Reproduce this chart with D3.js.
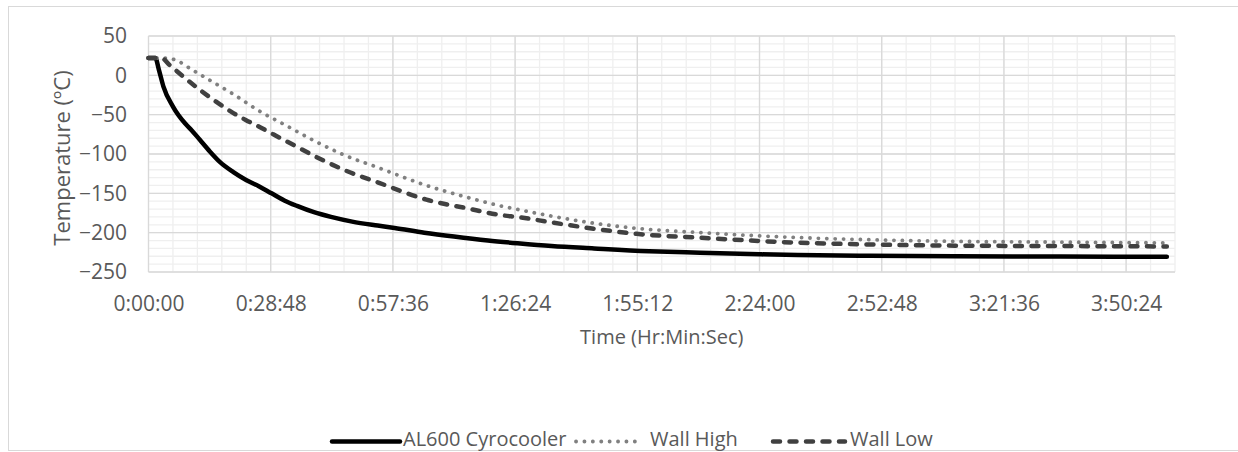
<!DOCTYPE html>
<html>
<head>
<meta charset="utf-8">
<script src="https://cdn.jsdelivr.net/npm/d3@7"></script>
<style>
  body { margin: 0; background: #fff; }
  text { font-family: "Open Sans", sans-serif; fill: #595959; }
</style>
</head>
<body>
<script>
// time is in minutes, temperature in degC
var coolerTime = [0, 1.6, 2.5, 3.5, 5.8, 8.6, 10.2, 12.1, 14.5, 16.8, 20, 23, 26, 29, 32, 35, 39, 43, 48, 54, 58, 65, 72, 80, 87, 95, 105, 118, 130, 144, 153, 170, 190, 215, 240];
var coolerTemp = [22, 22, 6, -14, -40, -61, -70, -82, -97, -110, -123, -133, -141, -150, -159, -166, -174, -180, -186, -191, -194, -200, -205, -210, -213.5, -217, -220, -223.5, -225.5, -227.5, -228.4, -229.3, -230, -230.4, -230.6];

var highTime = [0, 4, 6.6, 10, 15, 20, 26, 32.5, 39, 46, 54.5, 65.5, 75, 83, 87.5, 95, 105, 115, 130, 152, 170, 190, 215, 240];
var highTemp = [22, 22, 19, 8, -8, -24, -45, -64, -83, -101, -118, -140, -155, -166, -171, -179, -188, -194.5, -200, -206, -209, -211, -212, -213];

var lowTime = [0, 3, 5, 8.5, 12, 15, 20, 23, 26.3, 29.4, 34, 40, 46, 54.5, 65.5, 75, 83, 87.5, 95, 105, 115, 130, 152, 170, 190, 215, 240];
var lowTemp = [22, 22, 13, -3, -18, -30, -48, -57, -66, -75, -88, -105, -120, -137, -158, -169, -177.6, -180.5, -187, -195, -201.5, -206.5, -212.5, -215, -216.5, -217, -217.5];

var xTicks = [0, 28.8, 57.6, 86.4, 115.2, 144, 172.8, 201.6, 230.4];
var xTickLabels = ["0:00:00", "0:28:48", "0:57:36", "1:26:24", "1:55:12", "2:24:00", "2:52:48", "3:21:36", "3:50:24"];
var yTicks = [50, 0, -50, -100, -150, -200, -250];

var seriesNames = ["AL600 Cyrocooler", "Wall High", "Wall Low"];

// chart area
var W = 1238, H = 452;
var margin = { top: 36, right: 63, bottom: 180, left: 148.5 };
var width = W - margin.left - margin.right;
var height = H - margin.top - margin.bottom;

var xMax = 241.92; // 0.168 day
var xScale = d3.scaleLinear().domain([0, xMax]).range([0, width]);
var yScale = d3.scaleLinear().domain([-250, 50]).range([height, 0]);

var svg = d3.select('body').append('svg')
  .attr('width', W)
  .attr('height', H);

// outer chart border
svg.append('rect')
  .attr('x', 8.5).attr('y', 6.5)
  .attr('width', W).attr('height', 444)
  .attr('fill', 'none')
  .attr('stroke', '#d9d9d9')
  .attr('stroke-width', 1);

var g = svg.append('g')
  .attr('transform', 'translate(' + margin.left + ',' + margin.top + ')');

// minor grid
var xMinor = d3.range(0, xMax + 0.01, 5.76);
var yMinor = d3.range(-250, 50.1, 10);
g.append('g').selectAll('line').data(xMinor).enter().append('line')
  .attr('x1', function(d) { return xScale(d); })
  .attr('x2', function(d) { return xScale(d); })
  .attr('y1', 0).attr('y2', height)
  .attr('stroke', '#efefef').attr('stroke-width', 1.3);
g.append('g').selectAll('line').data(yMinor).enter().append('line')
  .attr('y1', function(d) { return yScale(d); })
  .attr('y2', function(d) { return yScale(d); })
  .attr('x1', 0).attr('x2', width)
  .attr('stroke', '#efefef').attr('stroke-width', 1.3);

// major grid
g.append('g').selectAll('line').data(xTicks).enter().append('line')
  .attr('x1', function(d) { return xScale(d); })
  .attr('x2', function(d) { return xScale(d); })
  .attr('y1', 0).attr('y2', height)
  .attr('stroke', '#d9d9d9').attr('stroke-width', 1.3);
g.append('g').selectAll('line').data(yTicks).enter().append('line')
  .attr('y1', function(d) { return yScale(d); })
  .attr('y2', function(d) { return yScale(d); })
  .attr('x1', 0).attr('x2', width)
  .attr('stroke', '#d9d9d9').attr('stroke-width', 1.3);

// axes (labels only)
var xAxis = d3.axisBottom(xScale)
  .tickValues(xTicks)
  .tickSize(0)
  .tickPadding(24)
  .tickFormat(function(d, i) { return xTickLabels[i]; });
var yAxis = d3.axisLeft(yScale)
  .tickValues(yTicks)
  .tickSize(0)
  .tickPadding(21.5);

var gx = g.append('g')
  .attr('transform', 'translate(0,' + height + ')')
  .call(xAxis);
var gy = g.append('g').call(yAxis);
[gx, gy].forEach(function(a) {
  a.select('.domain').remove();
  a.selectAll('text')
    .style('font-family', '"Open Sans", sans-serif')
    .style('font-size', '21px')
    .attr('fill', '#595959');
});

// axis titles
svg.append('text')
  .attr('x', margin.left + width / 2)
  .attr('y', 344)
  .attr('text-anchor', 'middle')
  .style('font-size', '20px')
  .text('Time (Hr:Min:Sec)');

svg.append('text')
  .attr('transform', 'translate(70,158) rotate(-90)')
  .attr('text-anchor', 'middle')
  .style('font-size', '22px')
  .text('Temperature (\u00baC)');

// lines
var line = d3.line()
  .x(function(d) { return xScale(d[0]); })
  .y(function(d) { return yScale(d[1]); })
  .curve(d3.curveMonotoneX);

var styles = [
  { color: '#000000', width: 4.5, dash: null },
  { color: '#808080', width: 3.8, dash: '0.1,8.3' },
  { color: '#404040', width: 4.5, dash: '7,9.5' }
];

var series = [
  d3.zip(coolerTime, coolerTemp),
  d3.zip(highTime, highTemp),
  d3.zip(lowTime, lowTemp)
];

series.forEach(function(s, i) {
  g.append('path')
    .datum(s)
    .attr('d', line)
    .attr('fill', 'none')
    .attr('stroke', styles[i].color)
    .attr('stroke-width', styles[i].width)
    .attr('stroke-linecap', 'round')
    .attr('stroke-linejoin', 'round')
    .attr('stroke-dasharray', styles[i].dash);
});

// legend
var legendPos = [
  { x1: 332, x2: 400, tx: 403 },
  { x1: 576, x2: 638, tx: 650 },
  { x1: 773, x2: 845, tx: 850 }
];
var legendY = 441.5;
seriesNames.forEach(function(name, i) {
  svg.append('line')
    .attr('x1', legendPos[i].x1).attr('x2', legendPos[i].x2)
    .attr('y1', legendY).attr('y2', legendY)
    .attr('stroke', styles[i].color)
    .attr('stroke-width', styles[i].width)
    .attr('stroke-linecap', 'round')
    .attr('stroke-dasharray', styles[i].dash);
  svg.append('text')
    .attr('x', legendPos[i].tx)
    .attr('y', 445.5)
    .style('font-size', '20px')
    .text(name);
});
</script>
</body>
</html>
